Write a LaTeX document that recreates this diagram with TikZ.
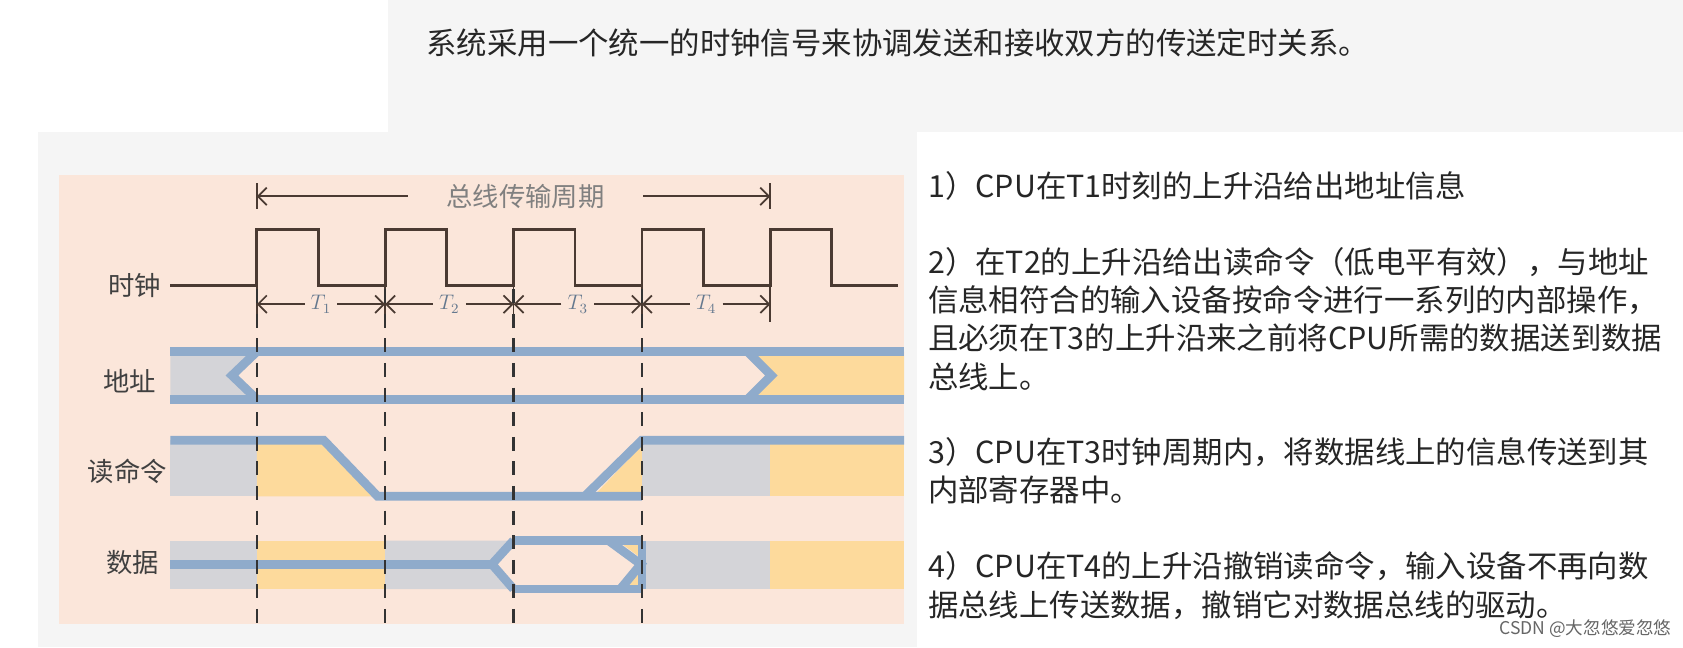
\documentclass[tikz,border=0pt]{standalone}
\usepackage{fontspec}
\setmainfont{Noto Sans CJK SC}
\usetikzlibrary{arrows.meta,calc}
\definecolor{peach}{HTML}{FBE6DA}
\definecolor{busblue}{HTML}{8FABCB}
\definecolor{busgray}{HTML}{D4D4D8}
\definecolor{busyel}{HTML}{FDDA9C}
\definecolor{clkbrown}{HTML}{4A3A32}
\tikzset{
  sig/.style={draw=busblue, line width=5pt, line join=miter},
  gfill/.style={fill=busgray},
  yfill/.style={fill=busyel},
  clk/.style={draw=clkbrown, line width=1.6pt},
  edge/.style={draw=black!80, line width=1.2pt, dash pattern=on 8pt off 6pt},
  lbl/.style={font=\fontsize{15}{15}\selectfont, text=black!75},
  note/.style={anchor=west, font=\fontsize{17.3}{17.3}\selectfont, text=black!85, inner sep=0pt},
  per/.style={-{Straight Barb[length=5pt]}, draw=clkbrown, line width=1pt},
}
\begin{document}
\begin{tikzpicture}[x=0.02158cm, y=-0.02158cm]
\useasboundingbox (0,0) rectangle (1560,600);
\fill[white] (0,0) rectangle (1560,600);
\fill[black!4] (360,0) rectangle (1560,122);
\fill[black!4] (35,122) rectangle (850,600);
\fill[peach] (55,162) rectangle (838,578);

% coordinates of the clock edges
\coordinate (e0) at (238,282);
\coordinate (e1) at (357,282);
\coordinate (e2) at (476,282);
\coordinate (e3) at (595,282);
\coordinate (e4) at (714,282);

% bus cycle
\node[lbl, text=black!50] (cyc) at (487,182) {总线传输周期};
\coordinate (cl) at (238,182);
\coordinate (cr) at (714,182);
\draw[per] (cyc.west) ++(-30,0) -- (cl);
\draw[per] (cyc.east) ++(30,0) -- (cr);
\draw[clkbrown, line width=1pt] (238,170) -- (238,194) (714,170) -- (714,194);

% clock
\node[lbl] (clock) at (125,265) {时钟};
\draw[clk] (158,265) foreach \x in {238,357,476,595,714} {-- (\x,265) -- (\x,213) -- (\x+57,213) -- (\x+57,265)} -- (832,265);

% periods
\foreach \i [evaluate=\i as \j using int(\i+1)] in {0,1,2,3} {
  \node[font=\itshape\fontsize{12}{12}\selectfont, text=busblue!70!black] (T\j) at ($(e\i)!0.5!(e\j)$) {$T_{\j}$};
  \draw[per] (T\j.west) -- (e\i);
  \draw[per] (T\j.east) -- (e\j);
  \draw[clkbrown, line width=1pt] ([yshift=-10]e\i) -- ([yshift=10]e\i);
}
\draw[clkbrown, line width=1pt] ([yshift=-10]e4) -- ([yshift=10]e4);

% address
\node[lbl] (addr) at (120,353) {地址};
\fill[gfill] (158,326) -- (238,326) -- (215,348) -- (238,370) -- (158,370) -- cycle;
\fill[yfill] (838,326) -- (693,326) -- (715,348) -- (693,370) -- (838,370) -- cycle;
\draw[sig] (158,326) -- (838,326);
\draw[sig] (158,370) -- (838,370);
\draw[sig] (238,326) -- (215,348) -- (238,370);
\draw[sig] (693,326) -- (715,348) -- (693,370);

% read command
\node[lbl] (rd) at (118,437) {读命令};
\fill[gfill] (158,408) rectangle (238,460);
\fill[yfill] (238,408) -- (300,408) -- (350,460) -- (238,460) -- cycle;
\fill[yfill] (550,460) -- (595,413) -- (595,460) -- cycle;
\fill[gfill] (595,408) rectangle (714,460);
\fill[yfill] (714,408) rectangle (838,460);
\draw[sig] (158,408) -- (300,408) -- (350,460) -- (595,460);
\draw[sig] (542,460) -- (595,408) -- (838,408);

% data
\node[lbl] (dat) at (123,521) {数据};
\fill[gfill] (158,501) rectangle (238,546);
\fill[yfill] (238,501) rectangle (357,546);
\fill[gfill] (357,501) -- (476,501) -- (456,523) -- (476,546) -- (357,546) -- cycle;
\fill[yfill] (575,503) -- (595,503) -- (595,518) -- cycle;
\fill[yfill] (578,544) -- (595,544) -- (595,528) -- cycle;
\fill[gfill] (595,501) rectangle (714,546);
\fill[yfill] (714,501) rectangle (838,546);
\draw[sig] (158,523) -- (456,523);
\draw[sig] (476,501) -- (456,523) -- (476,546);
\draw[sig] (476,501) -- (595,501);
\draw[sig] (476,546) -- (595,546);
\draw[sig] (564,501) -- (594,523) -- (575,546);
\draw[sig] (595,501) -- (595,546);

% clock edges
\foreach \i in {0,1,2,3}
  \draw[edge] (e\i) ++(0,-14) -- ++(0,310);

% notes
\node[note] (title) at (395,40) {系统采用一个统一的时钟信号来协调发送和接收双方的传送定时关系。};
\node[note] (n1) at (860,172) {1）CPU在T1时刻的上升沿给出地址信息};
\node[note] (n2a) at (860,243) {2）在T2的上升沿给出读命令（低电平有效），与地址};
\node[note] (n2b) at (860,278) {信息相符合的输入设备按命令进行一系列的内部操作，};
\node[note] (n2c) at (860,313) {且必须在T3的上升沿来之前将CPU所需的数据送到数据};
\node[note] (n2d) at (860,349) {总线上。};
\node[note] (n3a) at (860,419) {3）CPU在T3时钟周期内，将数据线上的信息传送到其};
\node[note] (n3b) at (860,454) {内部寄存器中。};
\node[note] (n4a) at (860,525) {4）CPU在T4的上升沿撤销读命令，输入设备不再向数};
\node[note] (n4b) at (860,561) {据总线上传送数据，撤销它对数据总线的驱动。};
\node[anchor=east, font=\fontsize{10}{10}\selectfont, text=black!60] (mark) at (1555,583) {CSDN @大忽悠爱忽悠};
\end{tikzpicture}
\end{document}
